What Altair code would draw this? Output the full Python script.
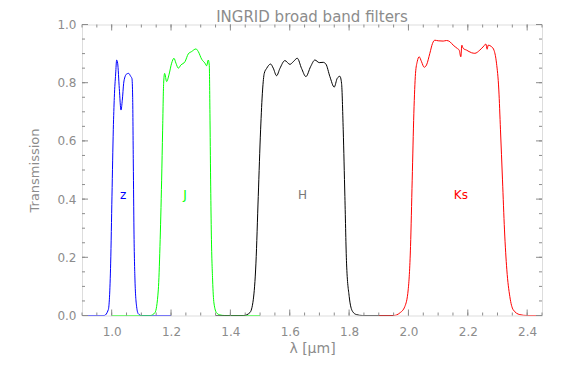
import altair as alt
import pandas as pd

# ---- data ----
z_wl = [0.90, 0.975, 0.9887, 0.9966, 1.0010, 1.0055, 1.0089, 1.0134, 1.0168, 1.0201, 1.0257,
        1.0314, 1.0358, 1.0404, 1.0448, 1.0505, 1.0572, 1.0639, 1.0684, 1.0707, 1.0729,
        1.0751, 1.0785, 1.0841, 1.0897, 1.10, 1.20]
z_tr = [0.0, 0.0, 0.02, 0.18, 0.41, 0.64, 0.75, 0.83, 0.878, 0.867, 0.78,
        0.706, 0.74, 0.798, 0.82, 0.83, 0.832, 0.822, 0.814, 0.75, 0.524,
        0.294, 0.122, 0.03, 0.006, 0.0, 0.0]

j_wl = [1.00, 1.13, 1.1459, 1.1571, 1.1627, 1.1683, 1.1717, 1.1751, 1.1784, 1.1852, 1.1930,
        1.2020, 1.2099, 1.2166, 1.2245, 1.2334, 1.2469, 1.2581, 1.2693, 1.2840, 1.2918,
        1.3031, 1.3143, 1.3199, 1.3255, 1.3289, 1.3311, 1.3334, 1.3356, 1.3401, 1.3446,
        1.3536, 1.3648, 1.38, 1.50]
j_tr = [0.0, 0.0, 0.01, 0.088, 0.237, 0.465, 0.637, 0.798, 0.832, 0.804, 0.827,
        0.867, 0.884, 0.867, 0.85, 0.861, 0.872, 0.899, 0.907, 0.916, 0.907,
        0.881, 0.867, 0.858, 0.878, 0.86, 0.695, 0.466, 0.294, 0.122, 0.043,
        0.009, 0.002, 0.0, 0.0]

h_wl = [1.35, 1.445, 1.4658, 1.4771, 1.4861, 1.4939, 1.5018, 1.5085, 1.5141, 1.5220, 1.5355,
        1.5444, 1.5557, 1.5669, 1.5837, 1.6006, 1.6118, 1.6253, 1.6399, 1.6545, 1.6702,
        1.6848, 1.6994, 1.7128, 1.7218, 1.7353, 1.7499, 1.7600, 1.7690, 1.7746, 1.7802,
        1.7858, 1.7914, 1.8004, 1.8116, 1.8251, 1.845, 1.95]
h_tr = [0.0, 0.0, 0.01, 0.054, 0.18, 0.409, 0.638, 0.775, 0.832, 0.849, 0.864,
        0.85, 0.824, 0.849, 0.876, 0.863, 0.872, 0.884, 0.849, 0.821, 0.855,
        0.878, 0.869, 0.87, 0.864, 0.821, 0.785, 0.815, 0.822, 0.798, 0.638,
        0.409, 0.18, 0.065, 0.014, 0.003, 0.0, 0.0]

ks_wl = [1.90, 1.95, 1.9711, 1.9879, 1.9991, 2.0070, 2.0126, 2.0182, 2.0238, 2.0295, 2.0362,
         2.0441, 2.0530, 2.0609, 2.0721, 2.0811, 2.0889, 2.1002, 2.1170, 2.1283, 2.1395,
         2.1507, 2.1642, 2.1709, 2.1765, 2.1799, 2.1844, 2.1956, 2.2125, 2.2237, 2.2405,
         2.2540, 2.2607, 2.2652, 2.2686, 2.2798, 2.2888, 2.2967, 2.3045, 2.3101, 2.3169,
         2.3236, 2.3315, 2.3416, 2.3528, 2.3753, 2.40, 2.45]
ks_tr = [0.0, 0.0, 0.009, 0.031, 0.088, 0.237, 0.465, 0.695, 0.832, 0.872, 0.889,
         0.872, 0.853, 0.861, 0.901, 0.935, 0.946, 0.944, 0.943, 0.945, 0.941,
         0.929, 0.918, 0.912, 0.889, 0.929, 0.918, 0.912, 0.903, 0.901, 0.912,
         0.926, 0.933, 0.915, 0.929, 0.924, 0.91, 0.867, 0.775, 0.638, 0.466,
         0.294, 0.157, 0.065, 0.02, 0.003, 0.0, 0.0]

filters = ["z", "J", "H", "Ks"]
colors = ["#0000ff", "#00ff00", "#000000", "#ff0000"]
label_colors = ["#0000ff", "#00ff00", "#777777", "#ff0000"]
label_wl = [1.0386, 1.2469, 1.6433, 2.1765]
label_tr = [0.4, 0.4, 0.4, 0.4]

x_major = [1.0, 1.2, 1.4, 1.6, 1.8, 2.0, 2.2, 2.4]
x_minor = [round(0.90 + 0.05 * i, 2) for i in range(32)]
y_major = [0.0, 0.2, 0.4, 0.6, 0.8, 1.0]
y_minor = [round(0.05 * i, 2) for i in range(21)]

# ---- build tables ----
rows = []
for name, wl, tr in [("z", z_wl, z_tr), ("J", j_wl, j_tr), ("H", h_wl, h_tr), ("Ks", ks_wl, ks_tr)]:
    for i, (w, t) in enumerate(zip(wl, tr)):
        rows.append({"filter": name, "wl": w, "tr": t, "i": i})
df = pd.DataFrame(rows)
labels_df = pd.DataFrame({"filter": filters, "wl": label_wl, "tr": label_tr, "col": label_colors})

W, H = 460, 291
GRAY = "#8c8c8c"
FONT = "DejaVu Sans"

xscale = alt.Scale(domain=[0.9, 2.45], nice=False, zero=False)
yscale = alt.Scale(domain=[0.0, 1.0], nice=False, zero=False)

xaxis = alt.Axis(values=x_major, format=".1f", title="λ [μm]", ticks=False, domain=False,
                 grid=False, labelFontSize=12, labelFont=FONT, labelColor=GRAY,
                 labelPadding=11, titleFontSize=14, titleFont=FONT, titleColor=GRAY,
                 titleFontWeight="normal", titlePadding=4)
yaxis = alt.Axis(values=y_major, format=".1f", title="Transmission", ticks=False, domain=False,
                 grid=False, labelFontSize=12, labelFont=FONT, labelColor=GRAY,
                 labelPadding=6, titleFontSize=13, titleFont=FONT, titleColor=GRAY,
                 titleFontWeight="normal", titlePadding=15)

lines = alt.Chart(df).mark_line(strokeWidth=1, clip=True, interpolate="monotone").encode(
    x=alt.X("wl:Q", scale=xscale, axis=xaxis),
    y=alt.Y("tr:Q", scale=yscale, axis=yaxis),
    color=alt.Color("filter:N", scale=alt.Scale(domain=filters, range=colors), legend=None),
    order="i:Q",
)

texts = alt.Chart(labels_df).mark_text(fontSize=12, font=FONT, baseline="alphabetic", align="center").encode(
    x=alt.X("wl:Q", scale=xscale, axis=xaxis),
    y=alt.Y("tr:Q", scale=yscale, axis=yaxis),
    text="filter:N",
    color=alt.Color("col:N", scale=None),
)

def xticks(vals, length):
    d = pd.DataFrame({"wl": vals})
    bot = alt.Chart(d).mark_rule(color=GRAY, strokeWidth=1).encode(
        x=alt.X("wl:Q", scale=xscale, axis=xaxis), y=alt.value(H), y2=alt.value(H - length))
    top = alt.Chart(d).mark_rule(color=GRAY, strokeWidth=1).encode(
        x=alt.X("wl:Q", scale=xscale, axis=xaxis), y=alt.value(0), y2=alt.value(length))
    return [bot, top]

def yticks(vals, length):
    d = pd.DataFrame({"tr": vals})
    left = alt.Chart(d).mark_rule(color=GRAY, strokeWidth=1).encode(
        y=alt.Y("tr:Q", scale=yscale, axis=yaxis), x=alt.value(0), x2=alt.value(length))
    right = alt.Chart(d).mark_rule(color=GRAY, strokeWidth=1).encode(
        y=alt.Y("tr:Q", scale=yscale, axis=yaxis), x=alt.value(W), x2=alt.value(W - length))
    return [left, right]

layers = [lines, texts] + xticks(x_minor, 3) + xticks(x_major, 6) + yticks(y_minor, 3) + yticks(y_major, 6)

chart = alt.layer(*layers).properties(
    width=W, height=H,
    title=alt.TitleParams("INGRID broad band filters", fontSize=15, font=FONT, color=GRAY,
                          fontWeight="normal", anchor="middle", offset=0, dy=6),
    autosize=alt.AutoSizeParams(type="none"),
    padding={"left": 74, "top": 16.5, "right": 16, "bottom": 45},
).configure_view(stroke=GRAY, strokeWidth=1).configure(background="white")

chart.save("out.html", embed_options={"renderer": "svg", "actions": False})
